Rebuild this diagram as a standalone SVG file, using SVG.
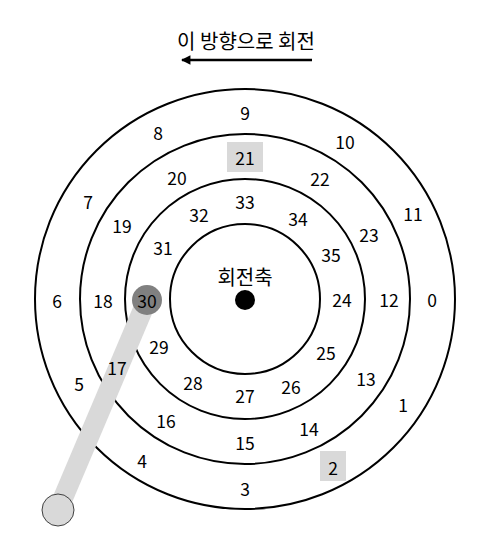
<svg xmlns="http://www.w3.org/2000/svg" width="481" height="557" viewBox="0 0 481 557">
<style>
text{font-family:"Noto Sans CJK KR","Noto Sans",sans-serif;font-size:17.5px;fill:#000;text-anchor:middle;dominant-baseline:central}
.ko{font-size:20px}
.ring{fill:none;stroke:#000;stroke-width:2}
</style>
<defs>
<marker id="ah" viewBox="0 0 10 10" refX="9" refY="5" markerWidth="4" markerHeight="3.6" orient="auto"><path d="M0,0L10,5L0,10z" fill="#000"/></marker>
</defs>
<rect width="481" height="557" fill="#fff"/>
<g id="title"><text class="ko" x="246" y="40">이 방향으로 회전</text></g>
<g id="connectors"><line x1="312" y1="60" x2="182" y2="60" stroke="#000" stroke-width="2.6" marker-end="url(#ah)"/></g>
<g id="rings">
<circle class="ring" cx="245" cy="299" r="210"/>
<circle class="ring" cx="245" cy="299" r="165"/>
<circle class="ring" cx="245" cy="299" r="120"/>
<circle class="ring" cx="245" cy="299" r="75"/>
</g>
<g id="axis"><circle cx="245" cy="300" r="10" fill="#000"/><text class="ko" x="245" y="276">회전축</text></g>
<g id="highlights">
<rect x="227" y="142" width="36" height="30" fill="#d9d9d9"/>
<rect x="320" y="451" width="26" height="30" fill="#d9d9d9"/>
</g>
<g id="arm">
<line x1="147" y1="300" x2="58" y2="510" stroke="#d9d9d9" stroke-width="20"/>
<circle cx="58" cy="510" r="16" fill="#d9d9d9" stroke="#404040" stroke-width="1"/>
<circle cx="147" cy="300" r="15" fill="#808080"/>
</g>
<g id="labels">
<text x="245" y="112">9</text>
<text x="158" y="132">8</text>
<text x="345" y="141">10</text>
<text x="245" y="157">21</text>
<text x="177" y="177">20</text>
<text x="320" y="178">22</text>
<text x="88" y="201">7</text>
<text x="245" y="201">33</text>
<text x="199" y="214">32</text>
<text x="298" y="218">34</text>
<text x="413" y="213">11</text>
<text x="122" y="225">19</text>
<text x="369" y="234">23</text>
<text x="163" y="247">31</text>
<text x="331" y="254">35</text>
<text x="57" y="300">6</text>
<text x="103" y="300">18</text>
<text x="147" y="300">30</text>
<text x="342" y="299">24</text>
<text x="389" y="299">12</text>
<text x="432" y="299">0</text>
<text x="159" y="346">29</text>
<text x="326" y="352">25</text>
<text x="117" y="367">17</text>
<text x="79" y="383">5</text>
<text x="366" y="378">13</text>
<text x="193" y="382">28</text>
<text x="291" y="386">26</text>
<text x="245" y="395">27</text>
<text x="403" y="404">1</text>
<text x="166" y="420">16</text>
<text x="309" y="428">14</text>
<text x="245" y="442">15</text>
<text x="142" y="460">4</text>
<text x="333" y="467">2</text>
<text x="245" y="488">3</text>
</g>
</svg>
